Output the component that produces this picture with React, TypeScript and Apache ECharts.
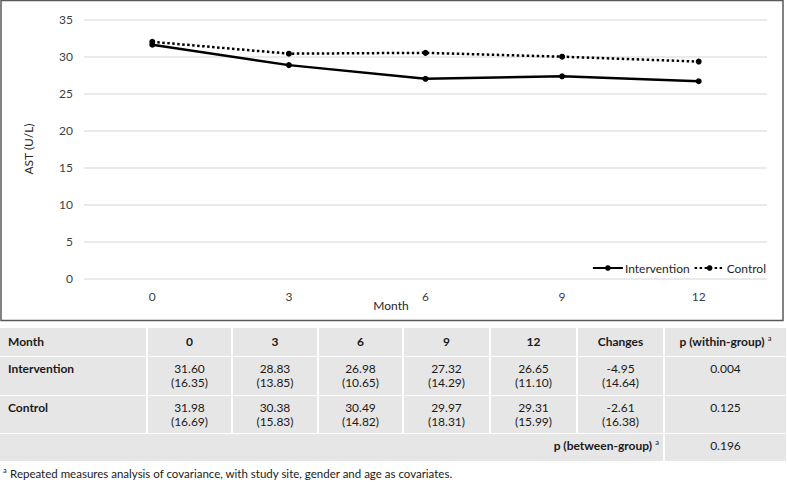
import React, { useEffect, useRef } from "react";
import * as echarts from "echarts";

const months = ["0", "3", "6", "9", "12"];
const interventionMean = [31.6, 28.83, 26.98, 27.32, 26.65];
const interventionSD = [16.35, 13.85, 10.65, 14.29, 11.1];
const controlMean = [31.98, 30.38, 30.49, 29.97, 29.31];
const controlSD = [16.69, 15.83, 14.82, 18.31, 15.99];
const changeMean = [-4.95, -2.61];
const changeSD = [14.64, 16.38];
const pWithin = ["0.004", "0.125"];
const pBetween = "0.196";
const groupNames = ["Intervention", "Control"];
const yTitle = "AST (U/L)";
const xTitle = "Month";
const footnote = "Repeated measures analysis of covariance, with study site, gender and age as covariates.";

const FONT = "Lato, 'Open Sans', sans-serif";
const TEXT = "#1a1a1a";

function buildTable(): any[] {
  const colEdges = [0, 147, 232, 318, 403, 490, 577, 664, 787];
  const rowEdges = [328, 357, 396, 434, 462];
  const els: any[] = [];
  const cellFill = "#e7e6e6";
  const cell = (x0: number, x1: number, y0: number, y1: number) => {
    els.push({
      type: "rect",
      silent: true,
      shape: { x: x0 === 0 ? 0 : x0 + 1, y: y0, width: x1 - (x0 === 0 ? 0 : x0 + 1) - 1, height: y1 - y0 - 1 },
      style: { fill: cellFill },
    });
  };
  // rows 0..2 : every column
  for (let r = 0; r < 3; r++) {
    for (let c = 0; c < 8; c++) cell(colEdges[c], colEdges[c + 1], rowEdges[r], rowEdges[r + 1]);
  }
  // last row: merged columns 0..6, and col 7
  cell(colEdges[0], colEdges[7], rowEdges[3], rowEdges[4]);
  cell(colEdges[7], colEdges[8], rowEdges[3], rowEdges[4]);

  const center = (c: number) => (colEdges[c] + colEdges[c + 1]) / 2;
  const rich = {
    b: { fontFamily: FONT, fontSize: 12, fontWeight: "bold", fill: TEXT, color: TEXT },
    s: { fontFamily: FONT, fontSize: 7.5, fill: TEXT, color: TEXT, verticalAlign: "top", padding: [0, 0, 6, 0] },
  };

  // header
  const headers = ["Month", ...months, "Changes"];
  headers.forEach((h, i) => {
    els.push({
      type: "text",
      silent: true,
      x: i === 0 ? 8 : center(i),
      y: 341,
      style: {
        text: h,
        font: `bold 12px ${FONT}`,
        fill: TEXT,
        align: i === 0 ? "left" : "center",
        verticalAlign: "middle",
      },
    });
  });
  els.push({
    type: "text",
    silent: true,
    x: center(7),
    y: 341,
    style: {
      text: "{b|p (within-group)} {s|a}",
      rich,
      align: "center",
      verticalAlign: "middle",
    },
  });

  const groups = [
    { name: groupNames[0], mean: interventionMean, sd: interventionSD, ch: changeMean[0], chsd: changeSD[0], p: pWithin[0] },
    { name: groupNames[1], mean: controlMean, sd: controlSD, ch: changeMean[1], chsd: changeSD[1], p: pWithin[1] },
  ];
  groups.forEach((g, gi) => {
    const top = rowEdges[gi + 1] + 4;
    els.push({
      type: "text",
      silent: true,
      x: 8,
      y: top,
      style: { text: g.name, font: `bold 12px ${FONT}`, fill: TEXT, align: "left", verticalAlign: "top", lineHeight: 14 },
    });
    const vals = g.mean.map((m, i) => `${m.toFixed(2)}\n(${g.sd[i].toFixed(2)})`);
    vals.push(`${g.ch.toFixed(2)}\n(${g.chsd.toFixed(2)})`);
    vals.forEach((v, i) => {
      els.push({
        type: "text",
        silent: true,
        x: center(i + 1),
        y: top,
        style: { text: v, font: `12px ${FONT}`, fill: TEXT, align: "center", verticalAlign: "top", lineHeight: 14 },
      });
    });
    els.push({
      type: "text",
      silent: true,
      x: center(7),
      y: top,
      style: { text: g.p, font: `12px ${FONT}`, fill: TEXT, align: "center", verticalAlign: "top", lineHeight: 14 },
    });
  });

  // between-group row
  els.push({
    type: "text",
    silent: true,
    x: colEdges[7] - 5,
    y: rowEdges[3] + 11,
    style: { text: "{b|p (between-group)} {s|a}", rich, align: "right", verticalAlign: "middle" },
  });
  els.push({
    type: "text",
    silent: true,
    x: center(7),
    y: rowEdges[3] + 4,
    style: { text: pBetween, font: `12px ${FONT}`, fill: TEXT, align: "center", verticalAlign: "top", lineHeight: 14 },
  });

  // footnote
  els.push({
    type: "text",
    silent: true,
    x: 3,
    y: 473,
    style: {
      text: `{s|a} {n|${footnote}}`,
      rich: {
        n: { fontFamily: FONT, fontSize: 11.5, fill: TEXT, color: TEXT },
        s: { fontFamily: FONT, fontSize: 7.5, fill: TEXT, color: TEXT, verticalAlign: "top", padding: [0, 0, 6, 0] },
      },
      align: "left",
      verticalAlign: "middle",
    },
  });
  return els;
}

export default function App() {
  const ref = useRef<HTMLDivElement>(null);
  useEffect(() => {
    document.body.style.margin = "0";
    if (!ref.current) return;
    const chart = echarts.init(ref.current, undefined, { renderer: "svg" });
    const option: any = {
      animation: false,
      backgroundColor: "#ffffff",
      textStyle: { fontFamily: FONT },
      grid: { left: 84, right: 20, top: 19.5, bottom: 203.7, containLabel: false },
      legend: {
        right: 16,
        top: 257,
        itemWidth: 30,
        itemHeight: 7,
        itemGap: 4,
        textStyle: { fontFamily: FONT, fontSize: 12, color: "#262626", padding: [0, 0, 0, -3] },
        data: groupNames,
      },
      xAxis: {
        type: "category",
        data: months,
        boundaryGap: true,
        axisLine: { show: false },
        axisTick: { show: false },
        axisLabel: { fontFamily: FONT, fontSize: 12, color: "#404040", margin: 12 },
      },
      yAxis: {
        type: "value",
        min: 0,
        max: 35,
        interval: 5,
        axisLine: { show: false },
        axisTick: { show: false },
        axisLabel: { fontFamily: FONT, fontSize: 12, color: "#404040", margin: 11 },
        splitLine: { lineStyle: { color: "#e3e3e3", width: 1.5 } },
      },
      series: [
        {
          name: groupNames[0],
          type: "line",
          data: interventionMean,
          symbol: "circle",
          symbolSize: 6,
          lineStyle: { color: "#000", width: 2.5, type: "solid" },
          itemStyle: { color: "#000" },
          z: 3,
        },
        {
          name: groupNames[1],
          type: "line",
          data: controlMean,
          symbol: "circle",
          symbolSize: 6,
          lineStyle: { color: "#000", width: 2.5, type: [2.5, 2.5], cap: "butt" },
          itemStyle: { color: "#000" },
          z: 2,
        },
      ],
      graphic: [
        {
          type: "rect",
          silent: true,
          shape: { x: 1, y: 0.5, width: 782, height: 320 },
          style: { fill: "none", stroke: "#595959", lineWidth: 1.5 },
        },
        {
          type: "text",
          silent: true,
          x: 28,
          y: 149,
          rotation: Math.PI / 2,
          style: { text: yTitle, font: `12px ${FONT}`, fill: "#262626", align: "center", verticalAlign: "middle" },
        },
        {
          type: "text",
          silent: true,
          x: 391,
          y: 305,
          style: { text: xTitle, font: `12px ${FONT}`, fill: "#262626", align: "center", verticalAlign: "middle" },
        },
        ...buildTable(),
      ],
    };
    chart.setOption(option);
    return () => chart.dispose();
  }, []);
  return <div ref={ref} style={{ width: 787, height: 482 }} />;
}
